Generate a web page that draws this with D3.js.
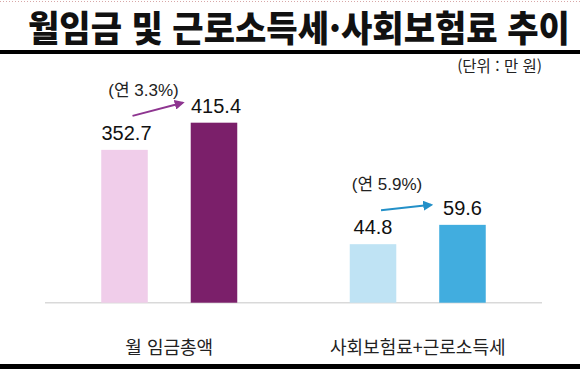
<!DOCTYPE html>
<html lang="ko">
<head>
	<meta charset="UTF-8">
	<title>월임금 및 근로소득세·사회보험료 추이</title>
	<script src="https://cdn.jsdelivr.net/npm/d3@7/dist/d3.min.js"></script>
	<style>
		html, body { margin: 0; padding: 0; background: #fff; }
		svg { display: block; }
	</style>
</head>
<body>
	<div id="vis"></div>

	<script>
		// data
		var categories = ["월 임금총액", "사회보험료+근로소득세"];
		var seriesKeys = ["prev", "curr"];
		var prevValues = [352.7, 44.8];
		var currValues = [415.4, 59.6];
		var growthLabels = ["(연 3.3%)", "(연 5.9%)"];
		var titleText = "월임금 및 근로소득세·사회보험료 추이";
		var unitText = "(단위 : 만 원)";

		var width = 580;
		var height = 369;
		var baseY = 302.7;

		var prevColors = ["#f0cdea", "#bfe3f4"];
		var currColors = ["#7b1f6a", "#41addf"];
		var arrowColors = ["#8e3590", "#2390c8"];

		var svg = d3.select("#vis").append("svg")
			.attr("width", width)
			.attr("height", height);

		// faint dotted line at the very top
		svg.append("line")
			.attr("x1", 0).attr("x2", width)
			.attr("y1", 1.5).attr("y2", 1.5)
			.attr("stroke", "#d8a8a8")
			.attr("stroke-width", 1)
			.attr("stroke-dasharray", "1,2");

		// title, squeezed sideways to fit the width
		var title = svg.append("text")
			.attr("x", 0)
			.attr("y", 0)
			.style("font-family", "'Noto Sans CJK KR', sans-serif")
			.style("font-weight", 900)
			.style("font-size", "36px")
			.attr("fill", "#111")
			.text(titleText);
		var titleW = title.node().getComputedTextLength();
		title.attr("transform", "translate(28,42) scale(" + (542 / titleW) + ",1)");

		// thick rules top and bottom
		svg.append("rect").attr("x", 0).attr("y", 50).attr("width", width).attr("height", 4).attr("fill", "#000");
		svg.append("rect").attr("x", 0).attr("y", 364).attr("width", width).attr("height", 5).attr("fill", "#000");

		// unit
		svg.append("text")
			.attr("x", 542)
			.attr("y", 72)
			.attr("text-anchor", "end")
			.style("font-family", "'Noto Sans CJK KR', sans-serif")
			.style("font-size", "15.5px")
			.attr("fill", "#222")
			.text(unitText);

		// scales: one band scale for groups, one inside each group
		var x0 = d3.scaleBand()
			.domain(categories)
			.range([45, 542]);

		var x1 = d3.scaleBand()
			.domain(seriesKeys)
			.range([0, 136])
			.paddingInner(0.48);

		// the two groups use their own value scales
		var yScales = [
			d3.scaleLinear().domain([0, 480]).range([baseY, baseY - 208]),
			d3.scaleLinear().domain([0, 160]).range([baseY, baseY - 209])
		];

		// baseline
		svg.append("line")
			.attr("x1", x0.range()[0]).attr("x2", x0.range()[1])
			.attr("y1", baseY).attr("y2", baseY)
			.attr("stroke", "#d9d9d9")
			.attr("stroke-width", 1.5);

		// arrow markers
		var defs = svg.append("defs");
		arrowColors.forEach(function(c, i) {
			defs.append("marker")
				.attr("id", "arrow" + i)
				.attr("viewBox", "0 0 10 10")
				.attr("refX", 8).attr("refY", 5)
				.attr("markerWidth", 5).attr("markerHeight", 5)
				.attr("orient", "auto")
				.append("path")
				.attr("d", "M0,0 L10,5 L0,10 z")
				.attr("fill", c);
		});

		categories.forEach(function(cat, i) {
			var y = yScales[i];
			var gx = x0(cat) + x0.bandwidth() / 2 - 68;
			var vals = [prevValues[i], currValues[i]];
			var cols = [prevColors[i], currColors[i]];

			var g = svg.append("g").attr("transform", "translate(" + gx + ",0)");

			g.selectAll("rect")
				.data(vals)
				.enter().append("rect")
				.attr("x", function(d, j) { return x1(seriesKeys[j]); })
				.attr("y", function(d) { return y(d); })
				.attr("width", x1.bandwidth())
				.attr("height", function(d) { return baseY - y(d); })
				.attr("fill", function(d, j) { return cols[j]; });

			g.selectAll("text.value")
				.data(vals)
				.enter().append("text")
				.attr("class", "value")
				.attr("x", function(d, j) { return x1(seriesKeys[j]) + x1.bandwidth() / 2 + (i === 0 ? 2 : 0); })
				.attr("y", function(d) { return y(d) - 10; })
				.attr("text-anchor", "middle")
				.style("font-family", "'Liberation Sans', Arial, sans-serif")
				.style("font-size", "20px")
				.attr("fill", "#111")
				.text(function(d) { return d.toFixed(1); });

			// growth arrow from the first bar label to the second
			var sx = x1("prev") + x1.bandwidth() / 2 + 8;
			var sy = y(vals[0]) - 34;
			var ex = x1("curr") - 8;
			var ey = y(vals[1]) - 20;

			g.append("line")
				.attr("x1", sx).attr("y1", sy)
				.attr("x2", ex).attr("y2", ey)
				.attr("stroke", arrowColors[i])
				.attr("stroke-width", 2)
				.attr("marker-end", "url(#arrow" + i + ")");

			g.append("text")
				.attr("x", sx + (i === 0 ? 11 : 6))
				.attr("y", sy - 20)
				.attr("text-anchor", "middle")
				.style("font-family", "'Liberation Sans', 'Noto Sans CJK KR', sans-serif")
				.style("font-size", "17px")
				.attr("fill", "#222")
				.text(growthLabels[i]);

			// category label
			svg.append("text")
				.attr("x", x0(cat) + x0.bandwidth() / 2)
				.attr("y", 354)
				.attr("text-anchor", "middle")
				.style("font-family", "'Noto Sans CJK KR', sans-serif")
				.style("font-size", "18px")
				.attr("fill", "#222")
				.text(cat);
		});
	</script>
</body>
</html>
